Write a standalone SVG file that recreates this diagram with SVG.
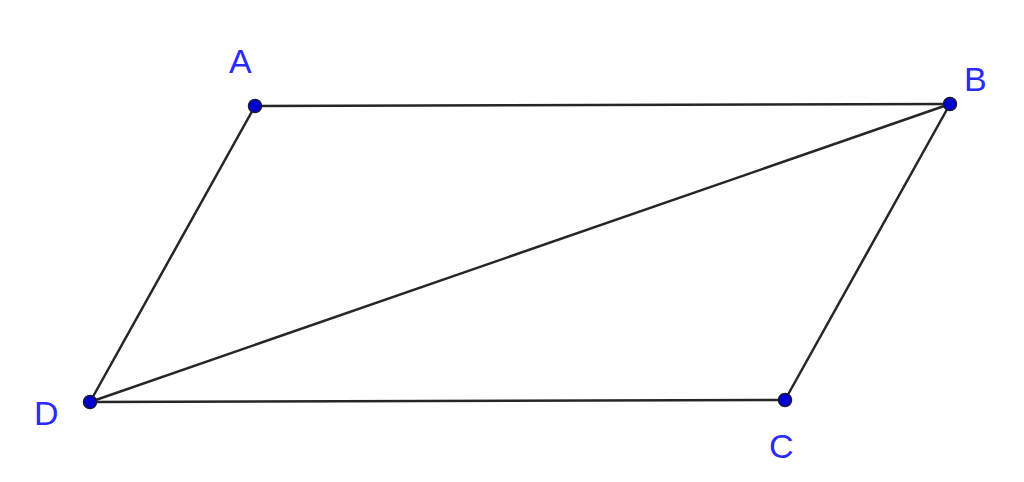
<svg xmlns="http://www.w3.org/2000/svg" width="1024" height="482" viewBox="0 0 1024 482">
<style>
.e{stroke:#262626;stroke-width:2.5;fill:none;stroke-linecap:round}
.p{fill:#0000d0;stroke:#1a1a40;stroke-width:1.5}
.l{font-family:"Liberation Sans",Arial,sans-serif;font-size:34px;fill:#2a2aff}
</style>
<rect width="1024" height="482" fill="#fff"/>
<g id="edges">
<line class="e" x1="255" y1="106" x2="950" y2="104"/>
<line class="e" x1="950" y1="104" x2="785" y2="400"/>
<line class="e" x1="785" y1="400" x2="90" y2="402"/>
<line class="e" x1="90" y1="402" x2="255" y2="106"/>
<line class="e" x1="90" y1="402" x2="950" y2="104"/>
</g>
<g id="A"><circle class="p" cx="255" cy="106" r="6.5"/><text class="l" x="229" y="73">A</text></g>
<g id="B"><circle class="p" cx="950" cy="104" r="6.5"/><text class="l" x="964" y="91">B</text></g>
<g id="C"><circle class="p" cx="785" cy="400" r="6.5"/><text class="l" x="769" y="458">C</text></g>
<g id="D"><circle class="p" cx="90" cy="402" r="6.5"/><text class="l" x="34" y="425">D</text></g>
</svg>
